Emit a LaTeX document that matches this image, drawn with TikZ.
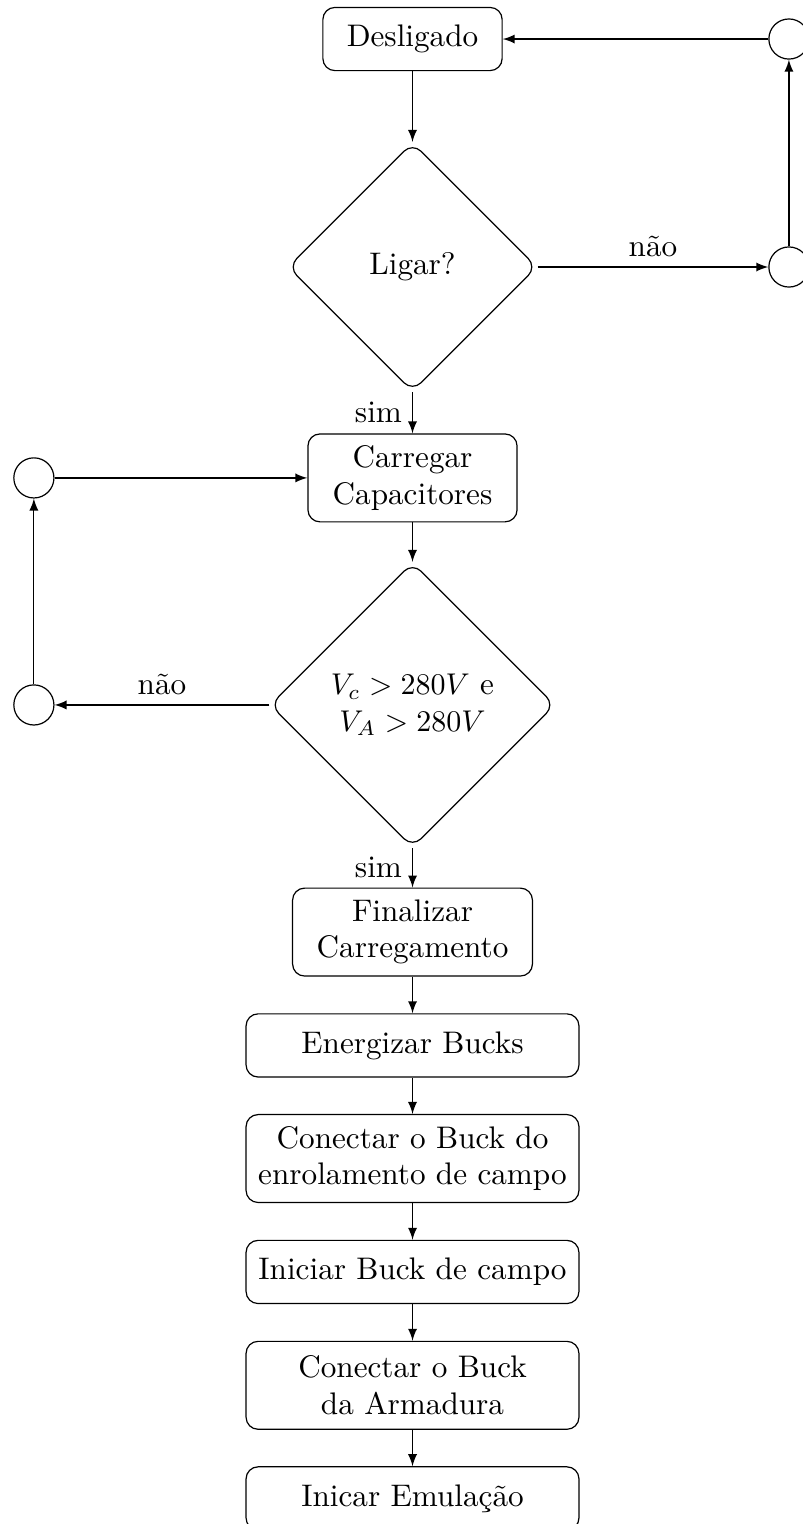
\documentclass[tikz,border=0pt]{standalone}
\usepackage{tikz}
\usepackage{amsmath}
\usetikzlibrary{shapes.geometric}

\tikzset{
  every node/.style={font=\fontsize{10.4}{12.2}\selectfont},
  caixa/.style={draw, rounded corners, align=center, minimum height=0.74cm},
  caixadupla/.style={caixa, minimum height=1.03cm},
  decisao/.style={draw, diamond, aspect=1, rounded corners, align=center, inner sep=0pt},
  conector/.style={draw, circle, minimum size=0.47cm, inner sep=0pt},
  seta/.style={-latex}
}

\begin{document}
\begin{tikzpicture}
\useasboundingbox (0,0) rectangle (9.408,-17.855);

\node[caixa, minimum width=2.1cm] (deslig) at (4.833,-0.457) {Desligado};
\node[decisao, minimum size=2.917cm] (ligar) at (4.833,-3.128) {Ligar?};
\node[conector] (c1) at (9.243,-3.128) {};
\node[conector] (c2) at (9.243,-0.457) {};
\node[caixadupla, minimum width=2.45cm] (carreg) at (4.833,-5.599) {Carregar\\Capacitores};
\node[decisao, minimum size=3.339cm] (tensao) at (4.833,-8.259) {$V_c > 280V$ e\\$V_A > 280V$};
\node[conector] (c3) at (0.397,-8.259) {};
\node[conector] (c4) at (0.397,-5.599) {};
\node[caixadupla, minimum width=2.81cm] (final) at (4.833,-10.920) {Finalizar\\Carregamento};
\node[caixa, minimum width=3.9cm] (energ) at (4.833,-12.248) {Energizar Bucks};
\node[caixadupla, minimum width=3.9cm] (conectc) at (4.833,-13.573) {Conectar o Buck do\\enrolamento de campo};
\node[caixa, minimum width=3.9cm] (inicc) at (4.833,-14.902) {Iniciar Buck de campo};
\node[caixadupla, minimum width=3.9cm] (conecta) at (4.833,-16.230) {Conectar o Buck\\da Armadura};
\node[caixa, minimum width=3.9cm] (emul) at (4.833,-17.555) {Inicar Emulação};

\draw[seta] (deslig) -- (ligar);
\draw[seta] (ligar) -- node[left] {sim} (carreg);
\draw[seta] (ligar) -- node[above] {não} (c1);
\draw[seta] (c1) -- (c2);
\draw[seta] (c2) -- (deslig);
\draw[seta] (carreg) -- (tensao);
\draw[seta] (tensao) -- node[above] {não} (c3);
\draw[seta] (c3) -- (c4);
\draw[seta] (c4) -- (carreg);
\draw[seta] (tensao) -- node[left] {sim} (final);
\draw[seta] (final) -- (energ);
\draw[seta] (energ) -- (conectc);
\draw[seta] (conectc) -- (inicc);
\draw[seta] (inicc) -- (conecta);
\draw[seta] (conecta) -- (emul);
\end{tikzpicture}
\end{document}
